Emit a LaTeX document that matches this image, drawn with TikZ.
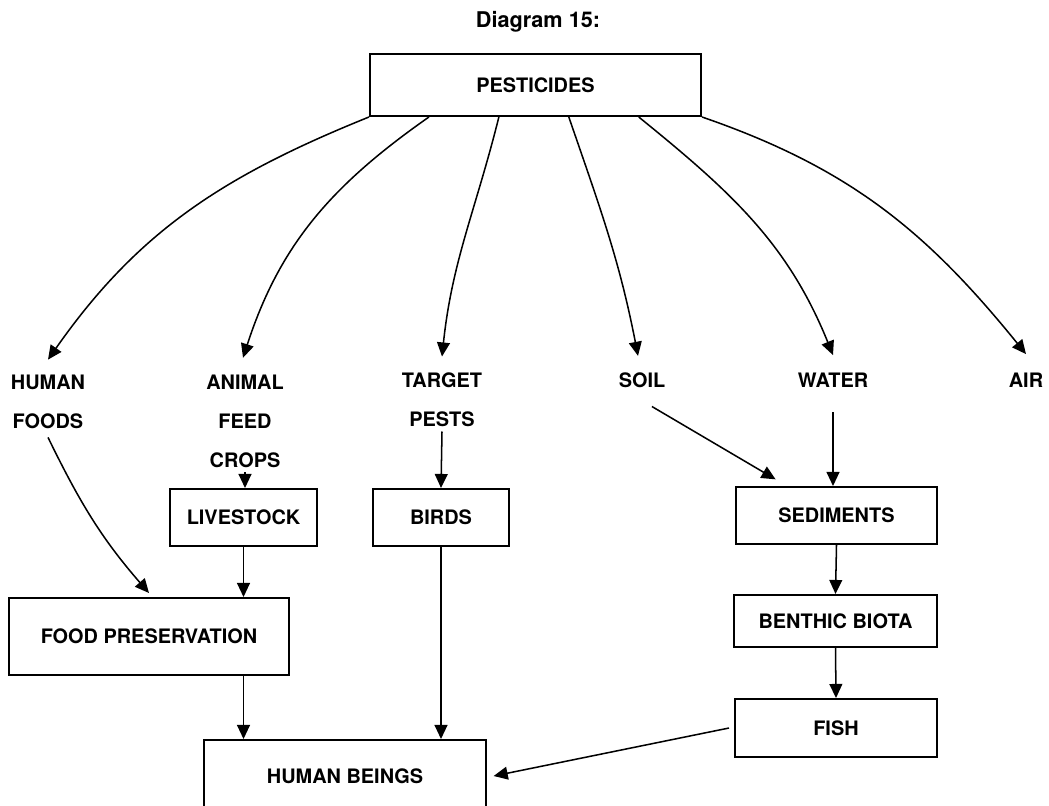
\documentclass[tikz,border=0pt]{standalone}
\usepackage{fontspec}
\setmainfont{TeX Gyre Heros}
\usetikzlibrary{arrows.meta,calc}

\begin{document}
\begin{tikzpicture}[x=0.03cm, y=-0.03cm, % 一个单位 = 参考图的一个像素
    every node/.style={font=\fontsize{17pt}{33pt}\selectfont\bfseries},
    box/.style={draw, line width=1.7pt, inner sep=0pt},
    lbl/.style={inner sep=0pt, outer sep=0pt, align=center},
    arr/.style={line width=1.3pt, -{Triangle[length=12pt, width=11pt]}}
  ]
  % 页面范围
  \useasboundingbox (0,0) rectangle (1049,805);
  \clip (0,0) rectangle (1049,805);

  % 标题
  \node (title) at (538,22) {\fontsize{18.5pt}{20pt}\selectfont Diagram 15:};

  % 顶部方框
  \node[box, minimum width=9.93cm, minimum height=1.86cm] (pest) at (535.5,85) {PESTICIDES};

  % 第一层去向 (无边框文字)
  \node[lbl] (hfood) at (48,402) {HUMAN\\FOODS};
  \node[lbl] (afeed) at (245,421.5) {ANIMAL\\FEED\\CROPS};
  \node[lbl] (tpest) at (442,400) {TARGET\\PESTS};
  \node[lbl] (soil) at (642,380) {SOIL};
  \node[lbl] (water) at (833,380) {WATER};
  \node[lbl] (air) at (1026,380) {AIR};

  % 下层方框
  \node[box, minimum width=4.41cm, minimum height=1.71cm] (live) at (243.5,517.5) {LIVESTOCK};
  \node[box, minimum width=4.08cm, minimum height=1.71cm] (bird) at (441,517.5) {BIRDS};
  \node[box, minimum width=6.03cm, minimum height=1.71cm] (sedi) at (836.5,515.5) {SEDIMENTS};
  \node[box, minimum width=6.09cm, minimum height=1.56cm] (bent) at (835.5,621) {BENTHIC BIOTA};
  \node[box, minimum width=6.06cm, minimum height=1.74cm] (fish) at (836,728) {FISH};
  \node[box, minimum width=8.4cm, minimum height=2.31cm] (fpres) at (149,636.5) {FOOD PRESERVATION};
  \node[box, minimum width=8.46cm, minimum height=2.16cm] (hbeing) at (345,776) {HUMAN BEINGS}; % 底边在图外

  % 农药到各去向的弧线
  \draw[arr] (pest.south west) to[out=202, in=55] ([yshift=0.47cm]hfood.north);
  \draw[arr] ($(pest.south west)!0.18!(pest.south east)$) to[out=215, in=72] ([xshift=-0.06cm, yshift=0.53cm]afeed.north);
  \draw[arr] ($(pest.south west)!0.39!(pest.south east)$) to[out=256, in=84] ([yshift=0.5cm]tpest.north);
  \draw[arr] ($(pest.south west)!0.6!(pest.south east)$) to[out=289, in=101] ([xshift=-0.12cm, yshift=0.5cm]soil.north);
  \draw[arr] ($(pest.south west)!0.81!(pest.south east)$) to[out=321, in=112] ([yshift=0.53cm]water.north);
  \draw[arr] (pest.south east) to[out=341, in=129] ([yshift=0.56cm]air.north);

  % 左侧: 食物链到人类
  \draw[arr] ([yshift=-0.26cm]hfood.south) to[out=296, in=131] ([yshift=0.12cm]fpres.north);
  \draw[arr] ([yshift=-0.14cm]afeed.south) -- (afeed.south |- live.north);
  \draw[arr] (live.south) -- (live.south |- fpres.north);
  \draw[arr] (fpres.south -| live.south) -- (live.south |- hbeing.north);
  \draw[arr] ([yshift=-0.14cm]tpest.south) -- (bird.north);
  \draw[arr] (bird.south) -- (bird.south |- hbeing.north);

  % 右侧: 土壤和水到鱼
  \draw[arr] ([xshift=-0.4cm, yshift=-0.57cm]soil.south east) -- ([yshift=0.2cm]$(sedi.north west)!0.2!(sedi.north east)$);
  \draw[arr] ([yshift=-0.75cm]water.south) -- (water.south |- sedi.north);
  \draw[arr] (sedi.south) -- (bent.north);
  \draw[arr] (bent.south) -- (fish.north);
  \draw[arr] ([xshift=-0.15cm]fish.west) -- ([xshift=0.2cm]hbeing.east);

\end{tikzpicture}
\end{document}
